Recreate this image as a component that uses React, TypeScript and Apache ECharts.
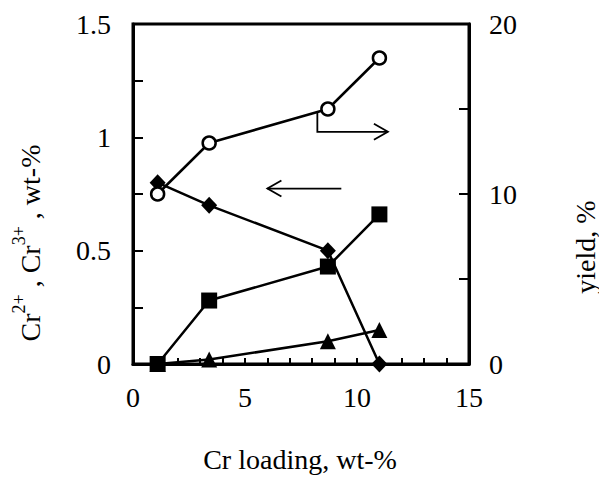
import React, { useEffect, useRef } from "react";
import * as echarts from "echarts";

const loading = [1.1, 3.4, 8.7, 11.0];
const crDiamond = [0.8, 0.7, 0.5, 0.0];
const crSquare = [0.0, 0.28, 0.43, 0.66];
const crTriangle = [0.0, 0.02, 0.1, 0.15];
const yieldPct = [10.0, 13.0, 15.0, 18.0];

const xLabels = ["0", "5", "10", "15"];
const leftLabels = ["0", "0.5", "1", "1.5"];
const rightLabels = ["0", "10", "20"];

// annotation arrows in data coordinates
const leftArrow = { from: [9.3, 0.774], to: [6.0, 0.774] }; // left axis
const rightArrow = { start: [8.23, 14.85], corner: [8.23, 13.66], end: [11.38, 13.66] }; // right axis

const FONT = "'Liberation Serif', 'Times New Roman', serif";

function pairs(xs: number[], ys: number[]) {
  return xs.map((x, i) => [x, ys[i]]);
}

export default function App() {
  const ref = useRef<HTMLDivElement>(null);
  useEffect(() => {
    document.body.style.margin = "0";
    if (!ref.current) return;
    const chart = echarts.init(ref.current, undefined, { renderer: "svg" });
    const axisText = { color: "#000", fontFamily: FONT, fontSize: 28 };
    const option: any = {
      animation: false,
      backgroundColor: "#fff",
      grid: {
        left: 133,
        right: 130,
        top: 24,
        bottom: 114,
        show: true,
        borderColor: "#000",
        borderWidth: 3,
      },
      xAxis: {
        type: "value",
        min: 0,
        max: 15,
        interval: 1,
        axisLine: { show: true, lineStyle: { color: "#000", width: 3 } },
        axisTick: { show: true, inside: true, length: 6, lineStyle: { color: "#000", width: 2 } },
        axisLabel: {
          ...axisText,
          margin: 19,
          formatter: (v: number) => (xLabels.includes(String(v)) ? String(v) : ""),
        },
        splitLine: { show: false },
      },
      yAxis: [
        {
          type: "value",
          min: 0,
          max: 1.5,
          interval: 0.25,
          axisLine: { show: true, lineStyle: { color: "#000", width: 3 } },
          axisTick: { show: true, inside: true, length: 10, lineStyle: { color: "#000", width: 2 } },
          axisLabel: {
            ...axisText,
            margin: 22,
            padding: [0, 0, 7, 0],
            formatter: (v: number) => {
              const s = String(Math.round(v * 100) / 100);
              return leftLabels.includes(s) ? s : "";
            },
          },
          splitLine: { show: false },
        },
        {
          type: "value",
          min: 0,
          max: 20,
          interval: 5,
          position: "right",
          axisLine: { show: true, lineStyle: { color: "#000", width: 3 } },
          axisTick: { show: true, inside: true, length: 10, lineStyle: { color: "#000", width: 2 } },
          axisLabel: {
            ...axisText,
            margin: 20,
            padding: [0, 0, 7, 0],
            formatter: (v: number) => (rightLabels.includes(String(v)) ? String(v) : ""),
          },
          splitLine: { show: false },
        },
      ],
      series: [
        {
          type: "line",
          data: pairs(loading, crDiamond),
          symbol: "diamond",
          symbolSize: [16, 17],
          lineStyle: { color: "#000", width: 2.5 },
          itemStyle: { color: "#000" },
          yAxisIndex: 0,
          z: 2,
        },
        {
          type: "line",
          data: pairs(loading, crSquare),
          symbol: "rect",
          symbolSize: 16,
          lineStyle: { color: "#000", width: 2.5 },
          itemStyle: { color: "#000" },
          yAxisIndex: 0,
          z: 3,
        },
        {
          type: "line",
          data: pairs(loading, crTriangle),
          symbol: "triangle",
          symbolSize: 16,
          lineStyle: { color: "#000", width: 2.5 },
          itemStyle: { color: "#000" },
          yAxisIndex: 0,
          z: 3,
        },
        {
          type: "line",
          data: pairs(loading, yieldPct),
          symbol: "circle",
          symbolSize: 13,
          lineStyle: { color: "#000", width: 2.5 },
          itemStyle: { color: "#fff", borderColor: "#000", borderWidth: 2.5 },
          yAxisIndex: 1,
          z: 4,
        },
      ],
    };
    chart.setOption(option);

    const pL = (p: number[]) => chart.convertToPixel({ xAxisIndex: 0, yAxisIndex: 0 }, p) as number[];
    const pR = (p: number[]) => chart.convertToPixel({ xAxisIndex: 0, yAxisIndex: 1 }, p) as number[];
    const la = pL(leftArrow.from);
    const lb = pL(leftArrow.to);
    const r0 = pR(rightArrow.start);
    const r1 = pR(rightArrow.corner);
    const r2 = pR(rightArrow.end);
    const arrowStyle = { stroke: "#000", lineWidth: 1.8, fill: null };
    const headL = 14;
    const headH = 8;

    chart.setOption({
      graphic: [
        { type: "polyline", shape: { points: [la, lb] }, style: arrowStyle, z: 10 },
        {
          type: "polyline",
          shape: { points: [[lb[0] + headL, lb[1] - headH], lb, [lb[0] + headL, lb[1] + headH]] },
          style: arrowStyle,
          z: 10,
        },
        { type: "polyline", shape: { points: [r0, r1, r2] }, style: arrowStyle, z: 10 },
        {
          type: "polyline",
          shape: { points: [[r2[0] - headL, r2[1] - headH], r2, [r2[0] - headL, r2[1] + headH]] },
          style: arrowStyle,
          z: 10,
        },
        {
          type: "text",
          x: 300,
          y: 459,
          style: {
            text: "Cr loading, wt-%",
            fill: "#000",
            font: `28px ${FONT}`,
            align: "center",
            verticalAlign: "middle",
          },
        },
        {
          type: "text",
          x: 585,
          y: 247,
          rotation: Math.PI / 2,
          style: {
            text: "yield, %",
            fill: "#000",
            font: `28px ${FONT}`,
            align: "center",
            verticalAlign: "middle",
          },
        },
        {
          type: "text",
          x: 27,
          y: 243,
          rotation: Math.PI / 2,
          style: {
            text: "{m|Cr}{s|2+}{m| , Cr}{s|3+}{m| , wt-%}",
            fill: "#000",
            align: "center",
            verticalAlign: "middle",
            rich: {
              m: { fontFamily: FONT, fontSize: 28, lineHeight: 34, fill: "#000", verticalAlign: "bottom" },
              s: { fontFamily: FONT, fontSize: 18, lineHeight: 34, fill: "#000", verticalAlign: "top" },
            },
          },
        },
      ],
    });

    return () => chart.dispose();
  }, []);
  return <div ref={ref} style={{ width: 599, height: 478 }} />;
}
